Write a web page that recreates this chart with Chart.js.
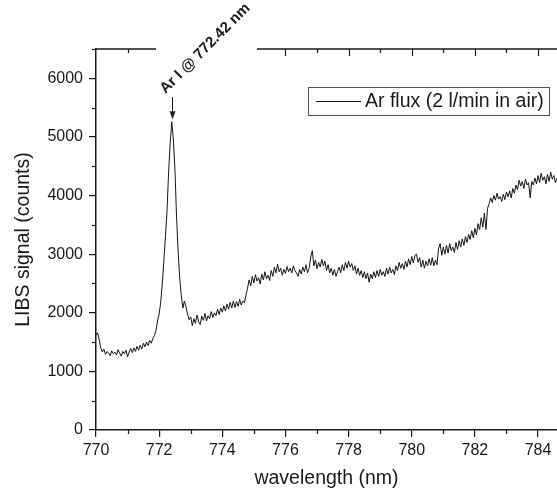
<!DOCTYPE html>
<html>
<head>
<meta charset="utf-8">
<script src="https://cdn.jsdelivr.net/npm/chart.js@4.4.1/dist/chart.umd.min.js"></script>
<style>
  html, body { margin: 0; padding: 0; background: #fff; }
  canvas { display: block; }
</style>
</head>
<body>
<canvas id="spectrumChart" width="557" height="490"></canvas>
<script>
// Spectrum (wavelength in nm, signal in counts)
const wavelength = [
    770.00, 770.05, 770.10, 770.15, 770.20, 770.25, 770.30, 770.35, 770.40, 770.45,
    770.50, 770.55, 770.60, 770.65, 770.70, 770.75, 770.80, 770.85, 770.90, 770.95,
    771.00, 771.05, 771.10, 771.15, 771.20, 771.25, 771.30, 771.35, 771.40, 771.45,
    771.50, 771.55, 771.60, 771.65, 771.70, 771.75, 771.80, 771.85, 771.90, 771.95,
    772.00, 772.05, 772.10, 772.15, 772.20, 772.25, 772.30, 772.35, 772.40, 772.45,
    772.50, 772.55, 772.60, 772.65, 772.70, 772.75, 772.80, 772.85, 772.90, 772.95,
    773.00, 773.05, 773.10, 773.15, 773.20, 773.25, 773.30, 773.35, 773.40, 773.45,
    773.50, 773.55, 773.60, 773.65, 773.70, 773.75, 773.80, 773.85, 773.90, 773.95,
    774.00, 774.05, 774.10, 774.15, 774.20, 774.25, 774.30, 774.35, 774.40, 774.45,
    774.50, 774.55, 774.60, 774.65, 774.70, 774.75, 774.80, 774.85, 774.90, 774.95,
    775.00, 775.05, 775.10, 775.15, 775.20, 775.25, 775.30, 775.35, 775.40, 775.45,
    775.50, 775.55, 775.60, 775.65, 775.70, 775.75, 775.80, 775.85, 775.90, 775.95,
    776.00, 776.05, 776.10, 776.15, 776.20, 776.25, 776.30, 776.35, 776.40, 776.45,
    776.50, 776.55, 776.60, 776.65, 776.70, 776.75, 776.80, 776.85, 776.90, 776.95,
    777.00, 777.05, 777.10, 777.15, 777.20, 777.25, 777.30, 777.35, 777.40, 777.45,
    777.50, 777.55, 777.60, 777.65, 777.70, 777.75, 777.80, 777.85, 777.90, 777.95,
    778.00, 778.05, 778.10, 778.15, 778.20, 778.25, 778.30, 778.35, 778.40, 778.45,
    778.50, 778.55, 778.60, 778.65, 778.70, 778.75, 778.80, 778.85, 778.90, 778.95,
    779.00, 779.05, 779.10, 779.15, 779.20, 779.25, 779.30, 779.35, 779.40, 779.45,
    779.50, 779.55, 779.60, 779.65, 779.70, 779.75, 779.80, 779.85, 779.90, 779.95,
    780.00, 780.05, 780.10, 780.15, 780.20, 780.25, 780.30, 780.35, 780.40, 780.45,
    780.50, 780.55, 780.60, 780.65, 780.70, 780.75, 780.80, 780.85, 780.90, 780.95,
    781.00, 781.05, 781.10, 781.15, 781.20, 781.25, 781.30, 781.35, 781.40, 781.45,
    781.50, 781.55, 781.60, 781.65, 781.70, 781.75, 781.80, 781.85, 781.90, 781.95,
    782.00, 782.05, 782.10, 782.15, 782.20, 782.25, 782.30, 782.35, 782.40, 782.45,
    782.50, 782.55, 782.60, 782.65, 782.70, 782.75, 782.80, 782.85, 782.90, 782.95,
    783.00, 783.05, 783.10, 783.15, 783.20, 783.25, 783.30, 783.35, 783.40, 783.45,
    783.50, 783.55, 783.60, 783.65, 783.70, 783.75, 783.80, 783.85, 783.90, 783.95,
    784.00, 784.05, 784.10, 784.15, 784.20, 784.25, 784.30, 784.35, 784.40, 784.45,
    784.50, 784.55, 784.60
];

const counts = [
    1620, 1660, 1540, 1400, 1330, 1380, 1290, 1340, 1310, 1270,
    1350, 1300, 1330, 1280, 1370, 1310, 1260, 1340, 1300, 1360,
    1250, 1330, 1390, 1320, 1400, 1340, 1430, 1360, 1450, 1380,
    1480, 1420, 1500, 1440, 1530, 1480, 1560, 1610, 1700, 1860,
    1980, 2180, 2500, 2900, 3300, 3750, 4400, 4900, 5260, 4950,
    4450, 3650, 3050, 2600, 2300, 2080, 2200, 2100, 1980, 1880,
    1930, 1780, 1900, 1820, 1960, 1850, 1800, 1940, 1870, 1990,
    1860, 1950, 1900, 2020, 1920, 2000, 1950, 2060, 1970, 2080,
    2010, 2120, 2030, 2150, 2060, 2180, 2080, 2200, 2090, 2190,
    2110, 2230, 2130, 2200, 2170, 2300, 2420, 2560, 2460, 2620,
    2510, 2650, 2540, 2600, 2490, 2660, 2560, 2700, 2580, 2640,
    2550, 2720, 2620, 2780, 2680, 2830, 2700, 2760, 2640, 2740,
    2670, 2790, 2700, 2760, 2680, 2800, 2720, 2680, 2620, 2740,
    2660, 2780, 2700, 2820, 2680, 2760, 2950, 3060, 2800, 2900,
    2750, 2860, 2780, 2910, 2800, 2880, 2720, 2820, 2680, 2760,
    2640, 2740, 2620, 2700, 2780, 2680, 2820, 2720, 2860, 2760,
    2880, 2780, 2840, 2720, 2800, 2660, 2760, 2640, 2720, 2600,
    2700, 2580, 2680, 2520, 2660, 2580, 2700, 2600, 2720, 2620,
    2740, 2640, 2700, 2620, 2760, 2660, 2780, 2680, 2740, 2650,
    2800, 2720, 2860, 2760, 2840, 2740, 2880, 2780, 2920, 2820,
    2960, 2850, 2980, 3000, 2860, 2940, 2780, 2900, 2760, 2880,
    2800, 2920, 2810, 2940, 2800, 2900, 2820, 3100, 3180, 2980,
    3120, 3000, 3150, 3020, 3180, 3060, 3120, 3030, 3200, 3080,
    3230, 3120, 3260, 3150, 3300, 3200, 3340, 3250, 3400, 3280,
    3440, 3330, 3520, 3420, 3620, 3460, 3700, 3420, 3780, 3860,
    3960, 3880, 4000, 3920, 4040, 3940, 3980, 3900, 4020, 3930,
    4060, 3980, 4080, 3960, 4120, 4040, 4180, 4100, 4260, 4160,
    4240, 4120, 4280, 4180, 4220, 3960, 4240, 4180, 4300, 4200,
    4340, 4220, 4380, 4260, 4320, 4200, 4360, 4240, 4400, 4280,
    4340, 4220, 4300
];

// Tick labels on the two axes
const xTicks = [770, 772, 774, 776, 778, 780, 782, 784];
const yTicks = [0, 1000, 2000, 3000, 4000, 5000, 6000];

const seriesLabel = "Ar flux (2 l/min in air)";
const peakWavelength = 772.42;
const peakLabel = "Ar I @ 772.42 nm";

const FONT = "'Liberation Sans', Arial, sans-serif";
const INK = "#1a1a1a";

// Draws the Origin-style extras: top axis with a gap, minor ticks, peak label, legend box
const originFrame = {
    id: "originFrame",
    afterDraw(chart) {
        const { ctx, chartArea: area, scales } = chart;
        const x = scales.x;
        const y = scales.y;
        ctx.save();
        ctx.strokeStyle = INK;
        ctx.fillStyle = INK;

        // top axis, broken where the peak label goes
        ctx.lineWidth = 1.5;
        ctx.beginPath();
        ctx.moveTo(area.left, area.top);
        ctx.lineTo(156, area.top);
        ctx.moveTo(257, area.top);
        ctx.lineTo(area.right, area.top);
        ctx.stroke();

        // ticks along the top, pointing inward
        ctx.lineWidth = 1.2;
        for (let v = 771; v <= 784; v++) {
            const px = Math.round(x.getPixelForValue(v)) + 0.5;
            if (px > 156 && px < 257) continue;
            const len = v % 2 === 0 ? 7 : 4;
            ctx.beginPath();
            ctx.moveTo(px, area.top);
            ctx.lineTo(px, area.top + len);
            ctx.stroke();
        }

        // minor ticks on the bottom axis
        for (let v = 771; v <= 784; v += 2) {
            const px = Math.round(x.getPixelForValue(v)) + 0.5;
            ctx.beginPath();
            ctx.moveTo(px, area.bottom);
            ctx.lineTo(px, area.bottom + 4);
            ctx.stroke();
        }

        // minor ticks on the left axis
        for (let v = 500; v <= 6500; v += 1000) {
            const py = Math.round(y.getPixelForValue(v)) + 0.5;
            ctx.beginPath();
            ctx.moveTo(area.left, py);
            ctx.lineTo(area.left - 4, py);
            ctx.stroke();
        }

        // arrow pointing at the Ar I line
        const ax = Math.round(x.getPixelForValue(peakWavelength)) + 0.5;
        const tipY = y.getPixelForValue(5300);
        const tailY = y.getPixelForValue(5680);
        ctx.lineWidth = 1;
        ctx.beginPath();
        ctx.moveTo(ax, tailY);
        ctx.lineTo(ax, tipY - 6);
        ctx.stroke();
        ctx.beginPath();
        ctx.moveTo(ax, tipY);
        ctx.lineTo(ax - 3, tipY - 8);
        ctx.lineTo(ax + 3, tipY - 8);
        ctx.closePath();
        ctx.fill();

        // rotated peak label
        ctx.save();
        ctx.translate(ax - 7, tailY - 3);
        ctx.rotate(-Math.PI / 4);
        ctx.font = "bold 15px " + FONT;
        ctx.textAlign = "left";
        ctx.textBaseline = "alphabetic";
        ctx.fillText(peakLabel, 0, 0);
        ctx.restore();

        // legend box
        ctx.lineWidth = 1;
        ctx.strokeStyle = "#555";
        ctx.strokeRect(308.5, 87.5, 241, 28);
        ctx.strokeStyle = INK;
        ctx.beginPath();
        ctx.moveTo(316, 101.5);
        ctx.lineTo(361, 101.5);
        ctx.stroke();
        ctx.font = "19.5px " + FONT;
        ctx.textBaseline = "middle";
        ctx.fillText(seriesLabel, 365, 102);

        ctx.restore();
    },
};

const ctx = document.getElementById("spectrumChart").getContext("2d");

const spectrumChart = new Chart(ctx, {
    type: "line",
    data: {
        datasets: [
            {
                label: seriesLabel,
                data: wavelength.map((w, i) => ({ x: w, y: counts[i] })),
                borderColor: "#151515",
                borderWidth: 1,
                pointRadius: 0,
                tension: 0,
                fill: false,
            },
        ],
    },
    options: {
        responsive: false,
        animation: false,
        layout: {
            padding: { top: 49, right: 0, bottom: 0, left: 0 },
        },
        plugins: {
            legend: { display: false },
            tooltip: { enabled: false },
        },
        scales: {
            x: {
                type: "linear",
                min: 770,
                max: 784.6,
                afterBuildTicks: (scale) => {
                    scale.ticks = xTicks.map((v) => ({ value: v }));
                },
                afterFit: (scale) => {
                    scale.height = 60;
                },
                ticks: {
                    autoSkip: false,
                    maxRotation: 0,
                    padding: 4,
                    color: INK,
                    font: { family: FONT, size: 16 },
                    callback: (v) => String(v),
                },
                grid: {
                    drawOnChartArea: false,
                    tickLength: 7,
                    color: INK,
                    lineWidth: 1.2,
                },
                border: { color: INK, width: 1.5 },
                title: {
                    display: true,
                    text: "wavelength (nm)",
                    color: INK,
                    font: { family: FONT, size: 19.5 },
                    padding: 0,
                },
            },
            y: {
                min: 0,
                max: 6500,
                afterBuildTicks: (scale) => {
                    scale.ticks = yTicks.map((v) => ({ value: v }));
                },
                afterFit: (scale) => {
                    scale.width = 96;
                },
                ticks: {
                    autoSkip: false,
                    padding: 6,
                    color: INK,
                    font: { family: FONT, size: 16 },
                    callback: (v) => String(v),
                },
                grid: {
                    drawOnChartArea: false,
                    tickLength: 7,
                    color: INK,
                    lineWidth: 1.2,
                },
                border: { color: INK, width: 1.5 },
                title: {
                    display: true,
                    text: "LIBS signal (counts)",
                    color: INK,
                    font: { family: FONT, size: 19.5 },
                    padding: 12,
                },
            },
        },
    },
    plugins: [originFrame],
});
</script>
</body>
</html>
